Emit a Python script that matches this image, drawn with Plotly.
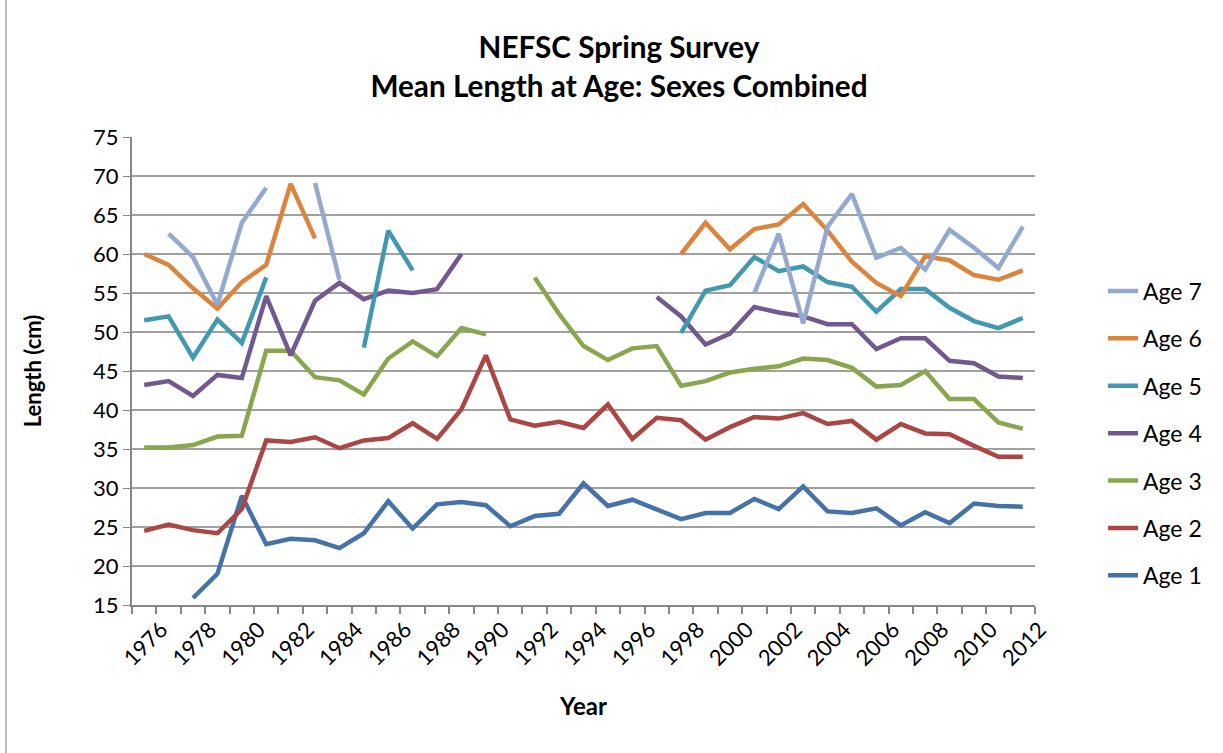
import plotly.graph_objects as go

years = list(range(1976, 2013))
N = None
age1 = [N, N, 15.9, 19.0, 29.0, 22.8, 23.5, 23.3, 22.3, 24.2, 28.3, 24.8, 27.9, 28.2, 27.8, 25.1, 26.4, 26.7, 30.6, 27.7, 28.5, 27.3, 26.0, 26.8, 26.8, 28.6, 27.3, 30.2, 27.0, 26.8, 27.4, 25.2, 26.9, 25.5, 28.0, 27.7, 27.6]
age2 = [24.5, 25.3, 24.6, 24.2, 27.3, 36.1, 35.9, 36.5, 35.1, 36.1, 36.4, 38.3, 36.3, 40.1, 47.0, 38.8, 38.0, 38.5, 37.7, 40.7, 36.3, 39.0, 38.7, 36.2, 37.8, 39.1, 38.9, 39.6, 38.2, 38.6, 36.2, 38.2, 37.0, 36.9, 35.4, 34.0, 34.0]
age3 = [35.2, 35.2, 35.5, 36.6, 36.7, 47.6, 47.6, 44.2, 43.8, 42.0, 46.6, 48.8, 46.9, 50.5, 49.7, N, 57.0, 52.3, 48.2, 46.4, 47.9, 48.2, 43.1, 43.7, 44.8, 45.3, 45.6, 46.6, 46.4, 45.4, 43.0, 43.2, 45.0, 41.4, 41.4, 38.4, 37.6]
age4 = [43.2, 43.7, 41.8, 44.5, 44.1, 54.6, 47.0, 54.0, 56.3, 54.2, 55.3, 55.0, 55.5, 60.0, N, N, N, N, N, N, N, 54.5, 52.0, 48.4, 49.8, 53.2, 52.5, 52.0, 51.0, 51.0, 47.8, 49.2, 49.2, 46.3, 46.0, 44.3, 44.1]
age5 = [51.5, 52.0, 46.7, 51.6, 48.6, 57.0, N, N, N, 48.0, 63.0, 57.9, N, N, N, N, N, N, N, N, N, N, 49.9, 55.3, 56.0, 59.6, 57.8, 58.4, 56.4, 55.8, 52.6, 55.5, 55.5, 53.1, 51.4, 50.5, 51.8]
age6 = [60.0, 58.6, 55.6, 53.0, 56.4, 58.6, 69.0, 62.0, N, N, N, N, N, N, N, N, N, N, N, N, N, N, 60.0, 64.0, 60.6, 63.2, 63.8, 66.4, 63.0, 59.0, 56.3, 54.6, 59.7, 59.2, 57.3, 56.7, 57.9]
age7 = [N, 62.6, 59.6, 53.5, 64.0, 68.5, N, 69.1, 56.7, N, N, N, N, N, N, N, N, N, N, N, N, N, N, N, N, 55.0, 62.6, 51.1, 63.5, 67.7, 59.5, 60.8, 58.0, 63.1, 60.8, 58.2, 63.5]

series = [("Age 1", age1, "#4572A7"), ("Age 2", age2, "#AA4643"), ("Age 3", age3, "#89A54E"),
          ("Age 4", age4, "#71588F"), ("Age 5", age5, "#4198AF"), ("Age 6", age6, "#DB843D"),
          ("Age 7", age7, "#93A9CF")]

FONT = "Lato, 'Open Sans', sans-serif"
L, R, T, B = 132, 188, 137, 148
PW, PH = 1223 - L - R, 753 - T - B

fig = go.Figure()
for i, (name, vals, col) in enumerate(series):
    fig.add_trace(go.Scatter(x=years, y=vals, name=name, mode="lines", legendgroup=name,
                             legendrank=100 - i,
                             line=dict(color=col, width=4.5), connectgaps=False))

fig.update_layout(
    width=1223, height=753,
    paper_bgcolor="white", plot_bgcolor="white",
    margin=dict(l=L, r=R, t=T, b=B),
    font=dict(family=FONT, size=22, color="black"),
    title=dict(text="<b>NEFSC Spring Survey<br>Mean Length at Age: Sexes Combined</b>",
               x=(619 - L) / PW, xanchor="center", xref="paper",
               y=1 - 58 / 753, yanchor="top", yref="container",
               font=dict(size=29.7, family=FONT)),
    showlegend=True,
    legend=dict(traceorder="grouped", x=(1103 - L) / PW, xanchor="left",
                y=(605 - 433.5) / PH, yanchor="middle",
                font=dict(size=23), tracegroupgap=14.5, itemwidth=30, bgcolor="rgba(0,0,0,0)"),
    xaxis=dict(range=[1975.5, 2012.5], tickmode="array", tickvals=list(range(1976, 2013, 2)),
               ticktext=[str(y) for y in range(1976, 2013, 2)], tickangle=-45,
               ticks="", showgrid=False, showline=True, linecolor="#868686", linewidth=2,
               zeroline=False, ticklabelshift=17, ticklabelstandoff=1,
               minor=dict(ticks="outside", tick0=1975.5, dtick=1, ticklen=7, tickcolor="#868686",
                          tickwidth=1.5, showgrid=False),
               title=dict(text="<b>Year</b>", font=dict(size=24), standoff=28),
               tickfont=dict(size=22)),
    yaxis=dict(range=[15, 75], dtick=5, tick0=15, showgrid=True, gridcolor="#A0A0A0", gridwidth=1.5,
               showline=True, linecolor="#868686", linewidth=2, ticks="outside", ticklen=7,
               tickcolor="#868686", zeroline=False,
               title=dict(text="<b>Length (cm)</b>", font=dict(size=22), standoff=45),
               tickfont=dict(size=22)),
    shapes=[dict(type="line", xref="paper", yref="paper", x0=(6 - L) / PW, x1=(6 - L) / PW,
                 y0=(605 - 753) / PH, y1=(605 + 0) / PH, line=dict(color="#A6A6A6", width=1.5),
                 layer="below")],
)
fig.write_html("out.html", config={"displayModeBar": False},
               post_script="document.body.style.margin='0';")
